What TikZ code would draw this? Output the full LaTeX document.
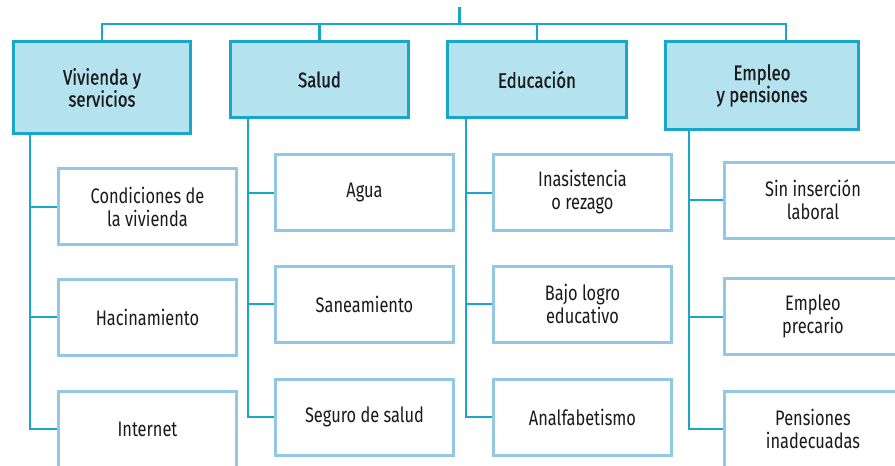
\documentclass[tikz,border=0pt]{standalone}
\usepackage{fontspec}
\setmainfont{Fira Sans}[FakeStretch=0.78]
\newfontfamily\headfont{Fira Sans}[FakeStretch=0.8,FakeBold=0.8]
\usetikzlibrary{calc}
\definecolor{linec}{HTML}{19A6CB}
\definecolor{headfill}{HTML}{B4E3EF}
\definecolor{childc}{HTML}{93C7E6}
\definecolor{textc}{HTML}{1A1A1A}
\begin{document}
\begin{tikzpicture}[x=1pt,y=-1pt,
  head/.style={draw=linec,line width=3.3pt,fill=headfill,align=center,text=textc,
    font=\headfont\fontsize{21}{22}\selectfont,inner sep=0pt},
  child/.style={draw=childc,line width=3pt,fill=white,align=center,text=textc,
    minimum width=178pt,minimum height=76pt,inner sep=0pt,
    font=\fontsize{21}{23}\selectfont},
  conn/.style={draw=linec,line width=2pt}]
\useasboundingbox (0,0) rectangle (895,466);
\clip (0,0) rectangle (895,466);
% headers
\node[head,minimum width=177pt,minimum height=92pt] (Vh) at (102,87.5) {Vivienda y\\servicios};
\node[head,minimum width=178pt,minimum height=76pt] (Sh) at (319.5,79.5) {Salud};
\node[head,minimum width=179pt,minimum height=76pt] (Eh) at (537,79.5) {Educación};
\node[head,minimum width=193pt,minimum height=88pt] (Ph) at (762,85.5) {Empleo\\y pensiones};
% children
\node[child] (V1) at (147.5,206.5) {Condiciones de\\la vivienda};
\node[child] (V2) at (147.5,317) {Hacinamiento};
\node[child] (V3) at (147.5,429) {Internet};
\node[child] (S1) at (364.5,192.5) {Agua};
\node[child] (S2) at (364.5,304) {Saneamiento};
\node[child] (S3) at (364.5,417) {Seguro de salud};
\node[child] (E1) at (582.5,192.5) {Inasistencia\\o rezago};
\node[child] (E2) at (582.5,304) {Bajo logro\\educativo};
\node[child] (E3) at (582.5,417) {Analfabetismo};
\node[child] (P1) at (813,200) {Sin inserción\\laboral};
\node[child] (P2) at (813,316.5) {Empleo\\precario};
\node[child] (P3) at (813,429) {Pensiones\\inadecuadas};
% top bus
\coordinate (top) at (459,7);
\coordinate (pstub) at ($(Ph.north east)+(-74,0)$);
\draw[conn,line width=2.5pt] (Vh.north) -- ++(0,-16) coordinate (bl) -| (pstub);
\draw[conn,line width=2.5pt] (Sh.north) -- (Sh.north |- bl);
\draw[conn,line width=2.5pt] (Eh.north) -- (Eh.north |- bl);
\draw[conn,line width=3pt] (top) -- (top |- bl);
% trunks
\coordinate (vt) at ($(Vh.south west)+(18,0)$);
\coordinate (st) at ($(Sh.south west)+(19,0)$);
\coordinate (et) at ($(Eh.south west)+(20,0)$);
\coordinate (pt) at ($(Ph.south west)+(25,0)$);
\draw[conn] (vt) |- (V3.west);
\draw[conn] (vt |- V1.west) -- (V1.west);
\draw[conn] (vt |- V2.west) -- (V2.west);
\draw[conn] (st) |- (S3.west);
\draw[conn] (st |- S1.west) -- (S1.west);
\draw[conn] (st |- S2.west) -- (S2.west);
\draw[conn] (et) |- (E3.west);
\draw[conn] (et |- E1.west) -- (E1.west);
\draw[conn] (et |- E2.west) -- (E2.west);
\draw[conn] (pt) |- (P3.west);
\draw[conn] (pt |- P1.west) -- (P1.west);
\draw[conn] (pt |- P2.west) -- (P2.west);
\end{tikzpicture}
\end{document}
